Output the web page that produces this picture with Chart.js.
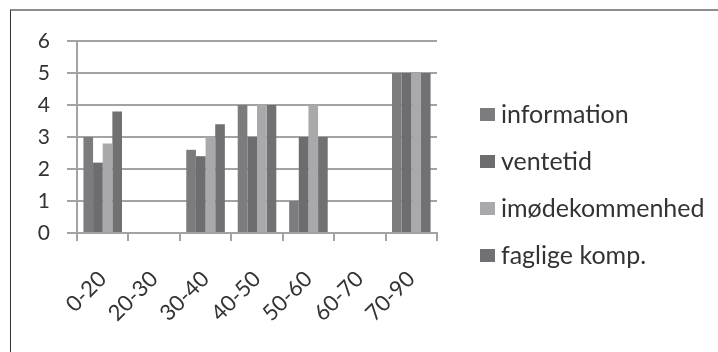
<!DOCTYPE html>
<html>
<head>
<meta charset="utf-8">
<script src="https://cdn.jsdelivr.net/npm/chart.js@4.4.0/dist/chart.umd.min.js"></script>
<style>
  html, body { margin: 0; padding: 0; background: #ffffff; }
  #frame {
    position: absolute; left: 10px; top: 9px; width: 708px; height: 343px;
    border-top: 2px solid #8e8e8e; border-left: 1px solid #333333; box-sizing: border-box;
  }
  #wrap { position: absolute; left: 0px; top: 0px; width: 707px; height: 341px; }
  .lg-box { position: absolute; width: 15px; height: 13px; }
  .lg-text {
    position: absolute; font-family: Lato, 'Open Sans', sans-serif; font-size: 25px;
    line-height: 30px; color: #333333; white-space: nowrap;
  }
</style>
</head>
<body>
<div id="frame"><div id="wrap"><canvas id="c" width="707" height="341"></canvas></div></div>
<div id="legend"></div>
<script>
const categories = ["0-20", "20-30", "30-40", "40-50", "50-60", "60-70", "70-90"];
const information = [3, null, 2.6, 4, 1, null, 5];
const ventetid = [2.2, null, 2.4, 3, 3, null, 5];
const imodekommenhed = [2.8, null, 3, 4, 4, null, 5];
const fagligeKomp = [3.8, null, 3.4, 4, 3, null, 5];
const seriesNames = ["information", "ventetid", "imødekommenhed", "faglige komp."];
const yTicks = [0, 1, 2, 3, 4, 5, 6];

const colors = ["#7c7c7e", "#6d6d6f", "#a9a9ab", "#717173"];
const gridColor = "#a3a3a3";
const FONT = "Lato, 'Open Sans', sans-serif";

function buildLegend() {
  const lg = document.getElementById("legend");
  seriesNames.forEach((name, i) => {
    const baseline = 122 + i * 47;
    const box = document.createElement("div");
    box.className = "lg-box";
    box.style.left = "480px";
    box.style.top = (baseline - 14) + "px";
    box.style.background = colors[i];
    lg.appendChild(box);
    const t = document.createElement("div");
    t.className = "lg-text";
    t.style.left = "501px";
    t.style.top = (baseline - 24) + "px";
    t.textContent = name;
    lg.appendChild(t);
  });
}

function build() {
  buildLegend();
  const datasets = [information, ventetid, imodekommenhed, fagligeKomp].map((d, i) => ({
    label: seriesNames[i],
    data: d,
    backgroundColor: colors[i],
    borderWidth: 0,
    categoryPercentage: 0.75,
    barPercentage: 1.0
  }));

  new Chart(document.getElementById("c"), {
    type: "bar",
    data: { labels: categories, datasets },
    options: {
      responsive: false,
      animation: false,
      devicePixelRatio: 1,
      layout: { padding: { left: 26, top: 30, right: 281, bottom: 23 } },
      plugins: {
        tooltip: { enabled: false },
        legend: { display: false }
      },
      scales: {
        x: {
          afterFit: (axis) => { axis.height = 96; },
          grid: {
            offset: true,
            drawOnChartArea: false,
            drawTicks: true,
            tickLength: 8,
            color: gridColor,
            lineWidth: 2
          },
          border: { display: true, color: gridColor, width: 2 },
          ticks: {
            font: { family: FONT, size: 22 },
            color: "#333333",
            minRotation: 45,
            maxRotation: 45,
            padding: 25,
            autoSkip: false
          }
        },
        y: {
          min: 0,
          max: 6,
          afterFit: (axis) => { axis.width = 40; },
          afterBuildTicks: (axis) => { axis.ticks = yTicks.map(v => ({ value: v })); },
          grid: {
            color: gridColor,
            lineWidth: 2,
            tickLength: 10,
            drawTicks: true
          },
          border: { display: true, color: gridColor, width: 2 },
          ticks: {
            font: { family: FONT, size: 21 },
            color: "#333333",
            padding: 17
          }
        }
      }
    }
  });
}

Promise.all([
  document.fonts.load("25px Lato"),
  document.fonts.load("22px Lato"),
  document.fonts.load("21px Lato")
]).then(build, build);
</script>
</body>
</html>
